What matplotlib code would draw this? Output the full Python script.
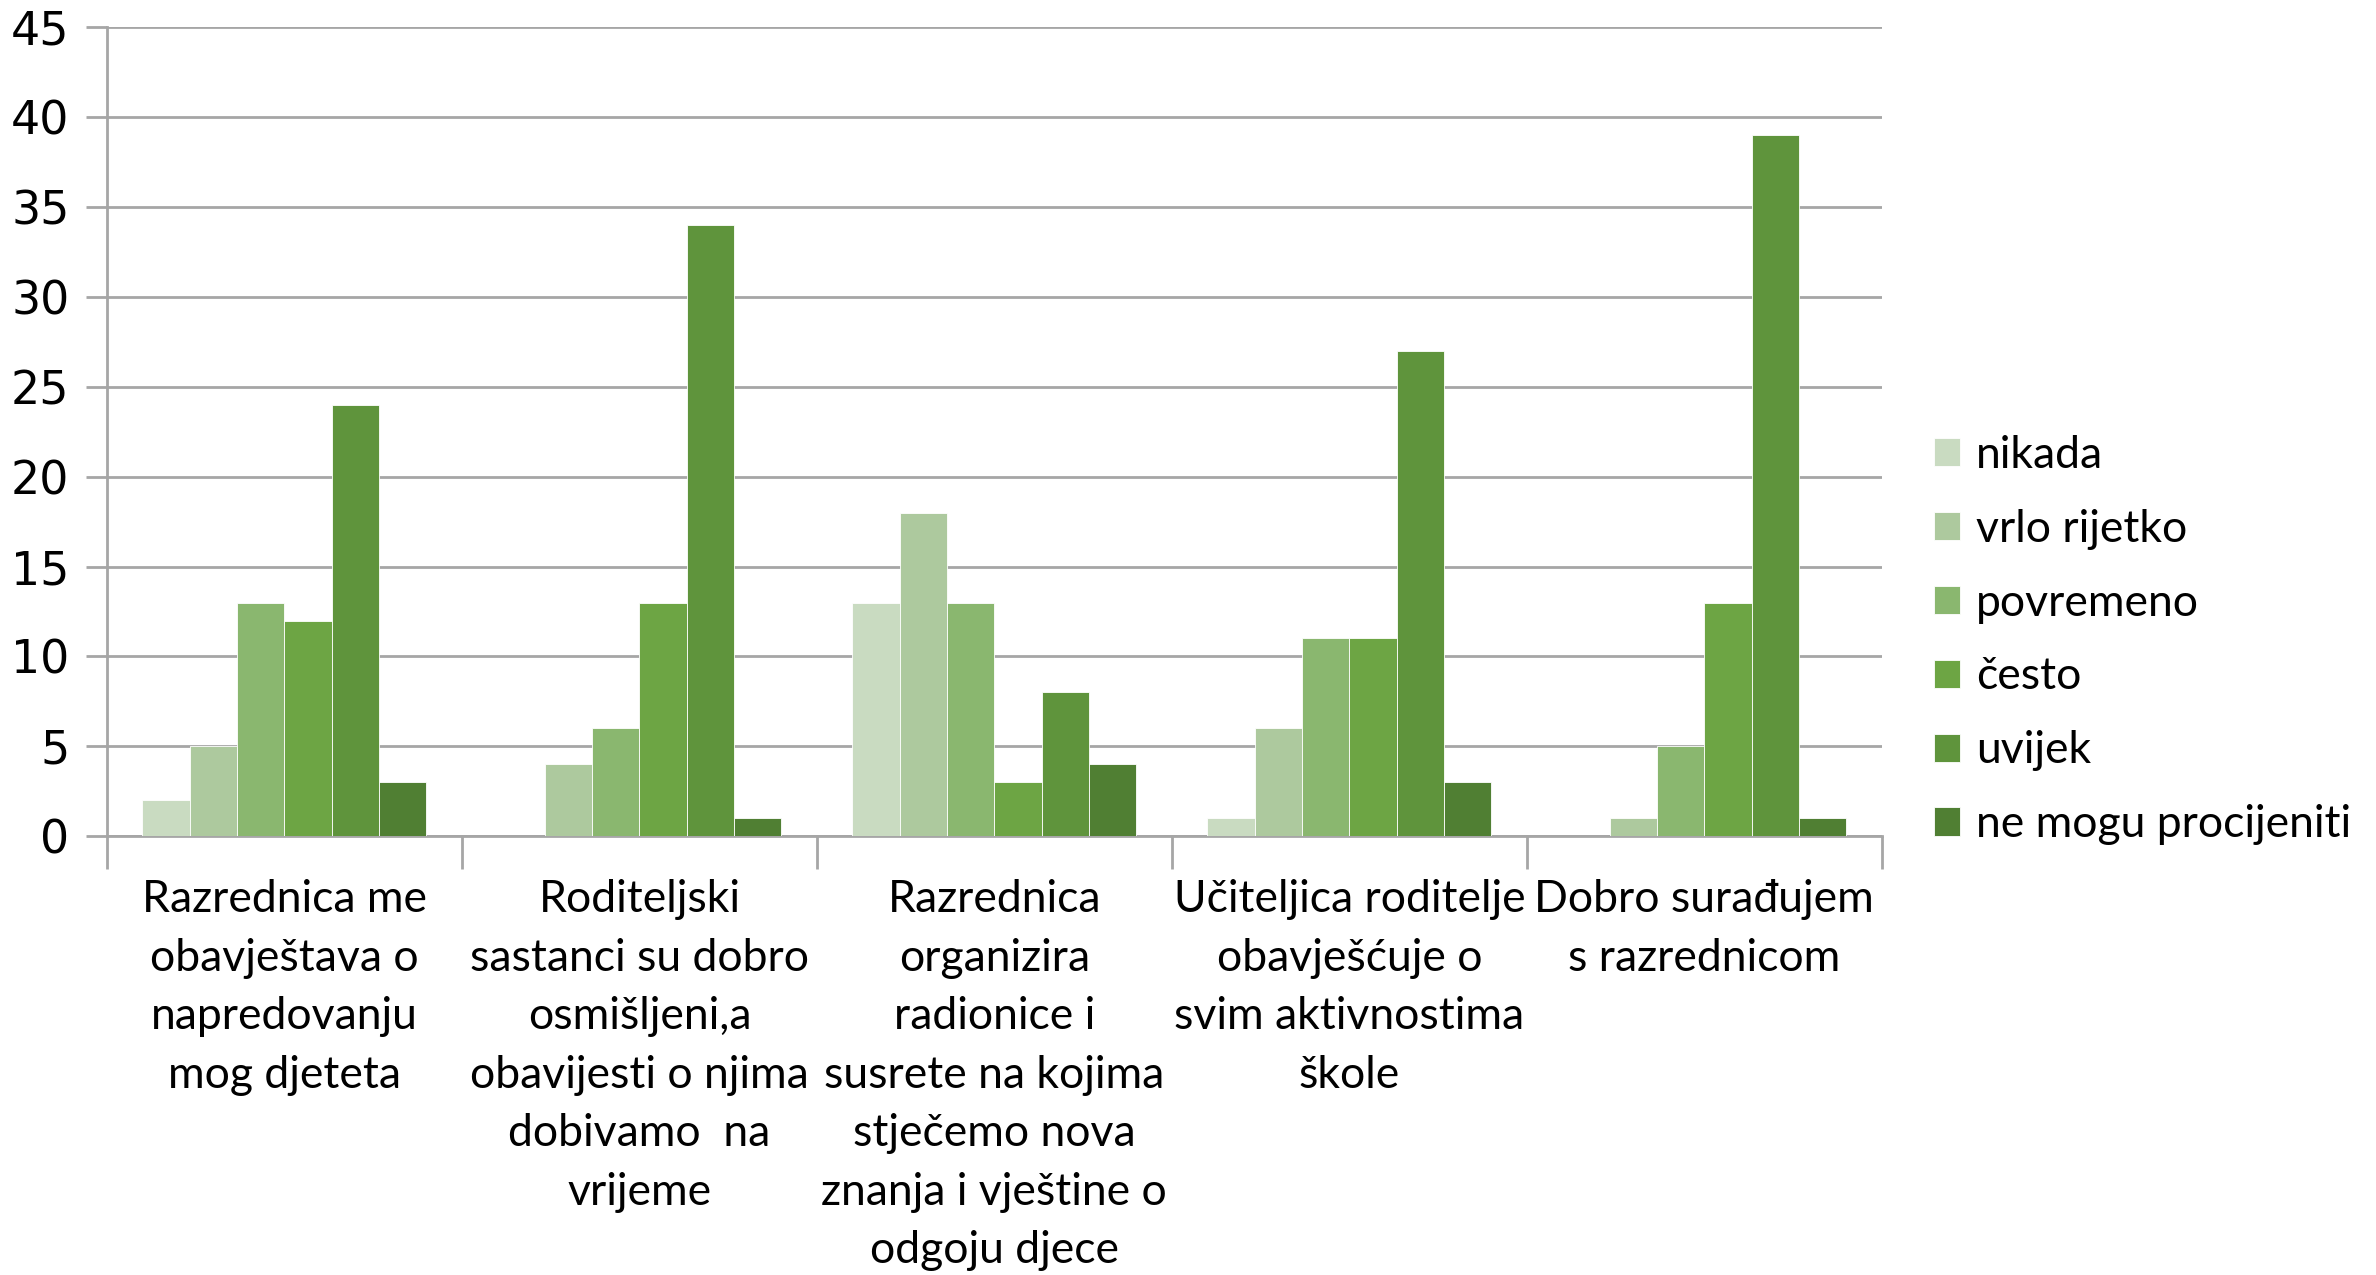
import matplotlib.pyplot as plt
import numpy as np

plt.rcParams['font.family'] = ['Lato', 'DejaVu Sans']

categories = [
    "Razrednica me\nobavještava o\nnapredovanju\nmog djeteta",
    "Roditeljski\nsastanci su dobro\nosmišljeni,a\nobavijesti o njima\ndobivamo  na\nvrijeme",
    "Razrednica\norganizira\nradionice i\nsusrete na kojima\nstječemo nova\nznanja i vještine o\nodgoju djece",
    "Učiteljica roditelje\nobavješćuje o\nsvim aktivnostima\nškole",
    "Dobro surađujem\ns razrednicom",
]
series = ["nikada", "vrlo rijetko", "povremeno", "često", "uvijek", "ne mogu procijeniti"]
nikada = [2, 0, 13, 1, 0]
vrlo_rijetko = [5, 4, 18, 6, 1]
povremeno = [13, 6, 13, 11, 5]
cesto = [12, 13, 3, 11, 13]
uvijek = [24, 34, 8, 27, 39]
ne_mogu = [3, 1, 4, 3, 1]
values = [nikada, vrlo_rijetko, povremeno, cesto, uvijek, ne_mogu]
colors = ["#C9DBC1", "#ADC99E", "#8AB76F", "#6DA544", "#5F943C", "#507F33"]

fig = plt.figure(figsize=(23.76, 12.75), dpi=100)
ax = fig.add_axes([0.045, 0.344, 0.747, 0.635])

x = np.arange(len(categories))
w = 0.8 / len(series)
for i, (name, vals) in enumerate(zip(series, values)):
    ax.bar(x - 0.4 + w * (i + 0.5), vals, w, color=colors[i], label=name,
           edgecolor="white", linewidth=0.6, zorder=3)

ax.set_xlim(-0.5, len(categories) - 0.5)
ax.set_ylim(0, 45)
ax.set_yticks(range(0, 46, 5))
ax.yaxis.grid(True, color="#A6A6A6", linewidth=2, zorder=0)
ax.tick_params(axis="y", length=15, width=2, color="#A6A6A6", pad=12,
               labelsize=33, labelfontfamily="DejaVu Sans")

ax.set_xticks(x)
ax.set_xticklabels(categories, fontsize=32, linespacing=1.53, va="top")
ax.set_xticks(np.arange(-0.5, len(categories)), minor=True)
ax.tick_params(axis="x", which="major", length=0, pad=31)
ax.tick_params(axis="x", which="minor", length=24, width=2, color="#A6A6A6")

for s in ["top", "right"]:
    ax.spines[s].set_visible(False)
ax.spines["left"].set_color("#A6A6A6")
ax.spines["left"].set_linewidth(2)
ax.spines["bottom"].set_color("#A6A6A6")
ax.spines["bottom"].set_linewidth(2)

fig.legend(loc="center left", bbox_to_anchor=(0.797, 0.498), frameon=False,
           fontsize=32, handlelength=0.6, handleheight=0.6, handletextpad=0.35,
           labelspacing=0.74)

fig.savefig("out.png", dpi=100)
